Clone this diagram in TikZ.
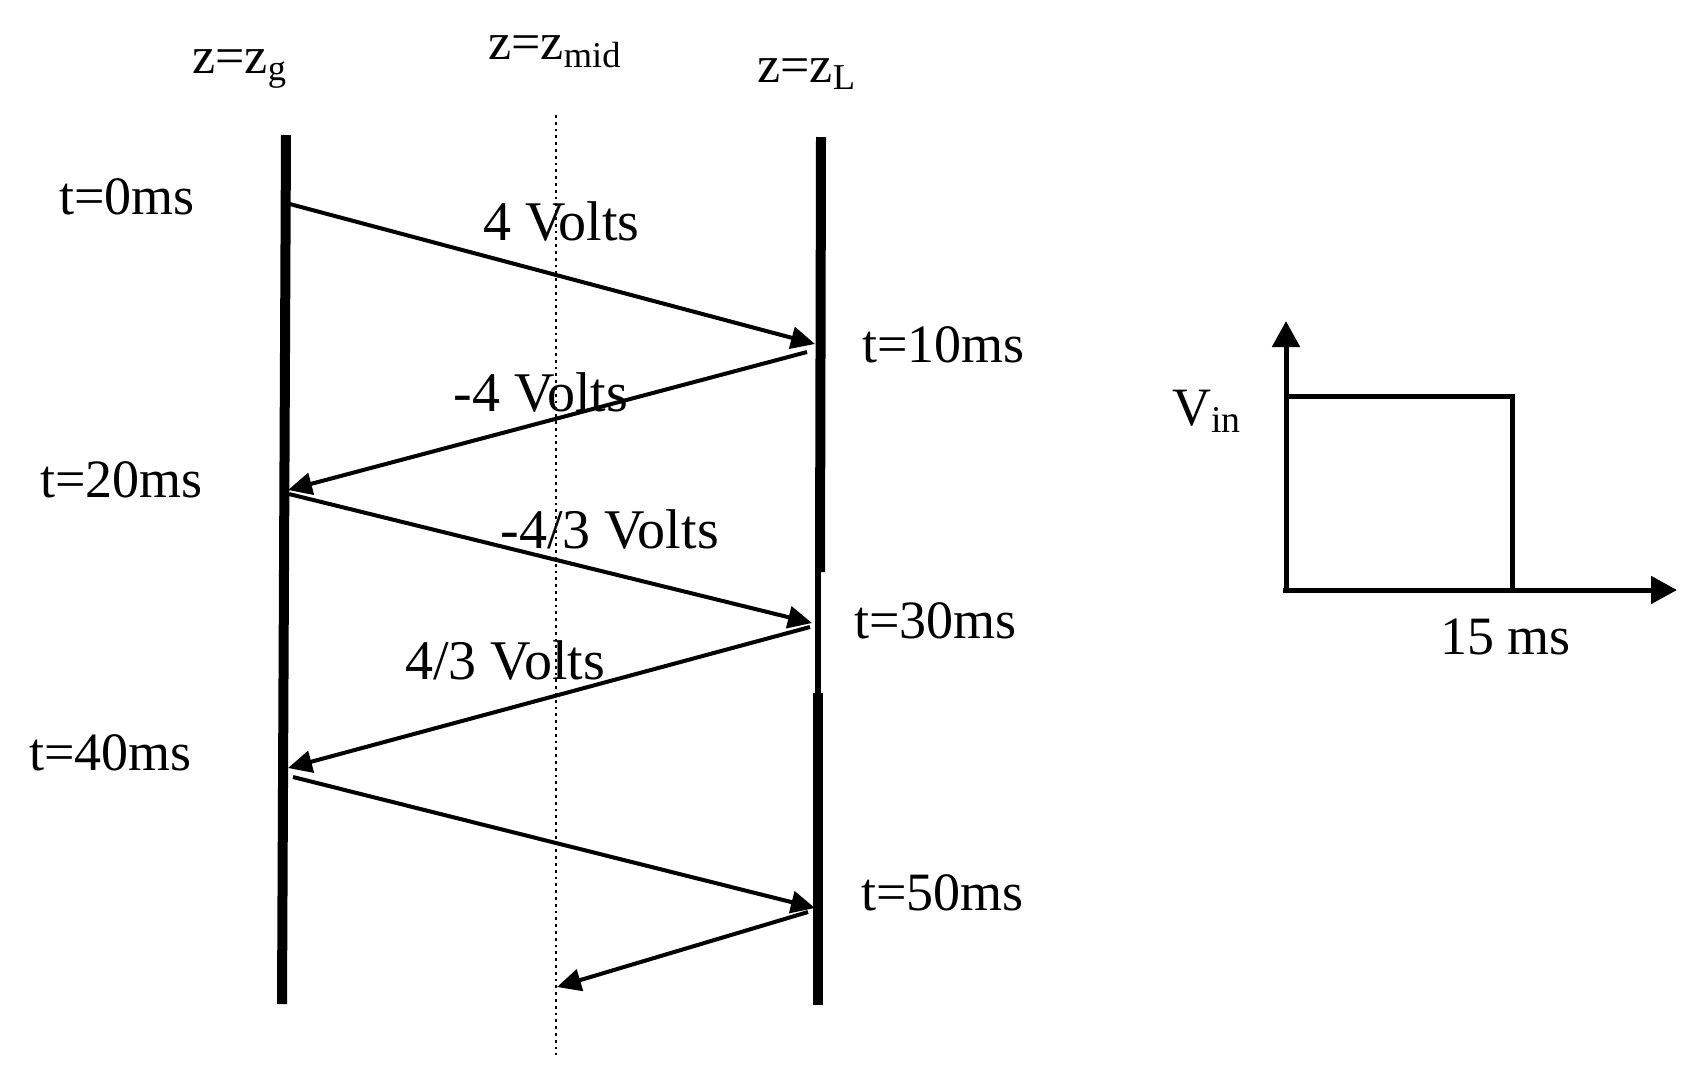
\documentclass[tikz,border=0pt]{standalone}
\usepackage{fontspec}
\setmainfont{Liberation Serif}
\usetikzlibrary{arrows.meta,positioning}

\begin{document}
\begin{tikzpicture}[
    x=0.5pt, y=-0.5pt,
    lbl/.style={anchor=base west, inner sep=0pt, font=\fontsize{27}{30}\selectfont},
    vlbl/.style={anchor=base west, inner sep=0pt, font=\fontsize{28}{32}\selectfont},
    zlbl/.style={anchor=base west, inner sep=0pt, font=\fontsize{26}{30}\selectfont},
    wall/.style={line width=5pt},
    wave/.style={line width=2pt, -{Triangle[length=12pt,width=11pt]}},
    axis/.style={line width=2.5pt, -{Triangle[length=13pt,width=13.5pt]}}
]
\useasboundingbox (0,0) rectangle (1692,1078);

% Lines
\coordinate (gtop) at (286,135);
\coordinate (gbot) at (282,1004);
\coordinate (Ltop) at (821,137);
\coordinate (Lcut) at (820,572);
\coordinate (Lthin) at (818,572);
\coordinate (Lback) at (818,693);
\coordinate (Lbot) at (818,1005);
\coordinate (mtop) at (556,115);
\coordinate (mbot) at (556,1055);

\draw [wall] (gtop) -- (gbot);
\draw [wall] (Ltop) -- (Lcut);
\draw [line width=3pt] (Lthin) -- (Lback);
\draw [wall] (Lback) -- (Lbot);
\draw [line width=1.4pt, dash pattern=on 1.4pt off 2pt] (mtop) -- (mbot);

% Nodes
\node [zlbl] (zg) at (192,73) {z=z\textsubscript{g}};
\node [zlbl] (zmid) at (488,59) {z=z\textsubscript{mid}};
\node [zlbl] (zL) at (757,82) {z=z\textsubscript{L}};

\node [lbl] (t0) at (59,214) {t=0ms};
\node [lbl] (t10) at (862,362) {t=10ms};
\node [lbl] (t20) at (40,497) {t=20ms};
\node [lbl] (t30) at (854,638) {t=30ms};
\node [lbl] (t40) at (29,770) {t=40ms};
\node [lbl] (t50) at (861,910) {t=50ms};

\node [vlbl] (v1) at (483,240) {4 Volts};
\node [vlbl] (v2) at (453,411) {-4 Volts};
\node [vlbl] (v3) at (500,548) {-4/3 Volts};
\node [vlbl] (v4) at (405,679) {4/3 Volts};

% Bounces
\coordinate (g0) at (286,203);
\coordinate (L10) at (815,344);
\coordinate (L10s) at (807,352);
\coordinate (g20) at (288,490);
\coordinate (g20s) at (289,494);
\coordinate (L30) at (812,623);
\coordinate (L30s) at (810,627);
\coordinate (g40) at (288,768);
\coordinate (g40s) at (293,777);
\coordinate (L50) at (815,908);
\coordinate (L50s) at (808,912);
\coordinate (mend) at (557,987);

\draw [wave] (g0) -- (L10);
\draw [wave] (L10s) -- (g20);
\draw [wave] (g20s) -- (L30);
\draw [wave] (L30s) -- (g40);
\draw [wave] (g40s) -- (L50);
\draw [wave] (L50s) -- (mend);

% Input pulse
\coordinate (o) at (1286,590);
\coordinate (ytip) at (1286,321);
\coordinate (xstart) at (1283,590);
\coordinate (xtip) at (1677,590);
\coordinate (ptop) at (1286,396);
\coordinate (pcorner) at (1512,396);
\coordinate (pend) at (1512,590);

\draw [axis] (o) -- (ytip);
\draw [axis] (xstart) -- (xtip);
\draw [line width=2.5pt] (ptop) -- (pcorner) -- (pend);

\node [lbl] (vin) at (1172,425) {V\textsubscript{in}};
\node [lbl] (tpulse) at (1440,654) {15 ms};

\end{tikzpicture}
\end{document}
